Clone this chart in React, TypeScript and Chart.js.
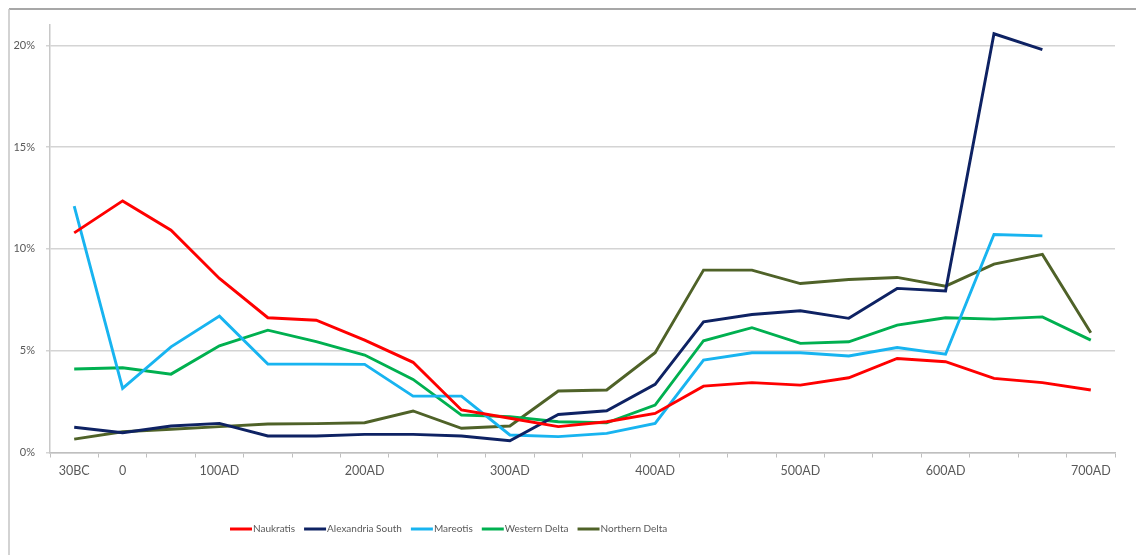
import React, { useEffect, useRef } from "react";
import { Chart, registerables } from "chart.js";

Chart.register(...registerables);

const categories = ["30BC", "0", "", "100AD", "", "", "200AD", "", "", "300AD", "", "", "400AD", "", "", "500AD", "", "", "600AD", "", "", "700AD"];

const naukratis = [10.79, 12.36, 10.92, 8.55, 6.62, 6.5, 5.52, 4.43, 2.09, 1.68, 1.27, 1.51, 1.92, 3.26, 3.43, 3.31, 3.67, 4.62, 4.46, 3.64, 3.43, 3.07];
const alexandriaSouth = [1.24, 0.97, 1.3, 1.43, 0.81, 0.81, 0.89, 0.89, 0.81, 0.58, 1.87, 2.05, 3.35, 6.42, 6.78, 6.96, 6.59, 8.06, 7.94, 20.57, 19.79, null];
const mareotis = [12.1, 3.15, 5.19, 6.7, 4.34, 4.34, 4.33, 2.77, 2.77, 0.86, 0.78, 0.94, 1.43, 4.54, 4.9, 4.9, 4.74, 5.16, 4.83, 10.71, 10.64, null];
const westernDelta = [4.1, 4.16, 3.85, 5.24, 6.01, 5.45, 4.79, 3.59, 1.84, 1.76, 1.51, 1.46, 2.33, 5.49, 6.13, 5.36, 5.44, 6.26, 6.62, 6.55, 6.66, 5.52];
const northernDelta = [0.66, 1.02, 1.14, 1.27, 1.4, 1.42, 1.46, 2.04, 1.19, 1.3, 3.02, 3.07, 4.9, 8.96, 8.96, 8.3, 8.5, 8.6, 8.17, 9.25, 9.73, 5.88];

const yTicks = [0, 5, 10, 15, 20];

const seriesNames = ["Naukratis", "Alexandria South", "Mareotis", "Western Delta", "Northern Delta"];
const seriesColors = ["#FF0000", "#0E2263", "#18B4F0", "#00B050", "#4F6228"];
const seriesData = [naukratis, alexandriaSouth, mareotis, westernDelta, northernDelta];

const FONT = "Lato, 'Open Sans', sans-serif";
const TEXT = "#595959";

const framePlugin = {
  id: "frame",
  beforeDraw(chart: any) {
    const ctx = chart.ctx;
    ctx.save();
    ctx.fillStyle = "#ffffff";
    ctx.fillRect(0, 0, chart.width, chart.height);
    ctx.lineWidth = 1.5;
    ctx.strokeStyle = "#8a8a8a";
    ctx.beginPath();
    ctx.moveTo(9, 9);
    ctx.lineTo(chart.width, 9);
    ctx.stroke();
    ctx.strokeStyle = "#c4c4c4";
    ctx.beginPath();
    ctx.moveTo(9, 9);
    ctx.lineTo(9, chart.height);
    ctx.stroke();
    ctx.restore();
  },
};

const legendPlugin = {
  id: "customLegend",
  afterDraw(chart: any) {
    const ctx = chart.ctx;
    ctx.save();
    ctx.font = `10px ${FONT}`;
    ctx.textBaseline = "middle";
    ctx.textAlign = "left";
    let x = 230;
    const y = 529;
    chart.data.datasets.forEach((ds: any) => {
      ctx.strokeStyle = ds.borderColor;
      ctx.lineWidth = 3;
      ctx.beginPath();
      ctx.moveTo(x, y);
      ctx.lineTo(x + 22, y);
      ctx.stroke();
      x += 23;
      ctx.fillStyle = TEXT;
      ctx.fillText(ds.label, x, y);
      x += ctx.measureText(ds.label).width + 9;
    });
    ctx.restore();
  },
};

export default function App() {
  const ref = useRef<HTMLCanvasElement | null>(null);
  useEffect(() => {
    if (!ref.current) return;
    const chart = new Chart(ref.current, {
      type: "line",
      data: {
        labels: categories,
        datasets: seriesNames.map((name, i) => ({
          label: name,
          data: seriesData[i],
          borderColor: seriesColors[i],
          backgroundColor: seriesColors[i],
          borderWidth: 2.9,
          pointRadius: 0,
          tension: 0,
          fill: false,
        })),
      },
      options: {
        responsive: false,
        animation: false,
        layout: { padding: { left: 0, right: 21, top: 25, bottom: 62.5 } },
        plugins: { legend: { display: false }, tooltip: { enabled: false } },
        scales: {
          x: {
            type: "category",
            offset: true,
            afterFit(scale: any) {
              scale.height = 40;
            },
            grid: {
              offset: true,
              drawOnChartArea: false,
              drawTicks: true,
              tickLength: 5,
              color: "#bfbfbf",
              lineWidth: 1,
            },
            border: { display: true, color: "#bfbfbf", width: 1.5 },
            ticks: {
              autoSkip: false,
              maxRotation: 0,
              minRotation: 0,
              padding: 6,
              color: TEXT,
              font: { family: FONT, size: 12.5 },
            },
          },
          y: {
            min: 0,
            max: 21,
            afterFit(scale: any) {
              scale.width = 50;
            },
            afterBuildTicks(scale: any) {
              scale.ticks = yTicks.map((v) => ({ value: v }));
            },
            grid: {
              color: "#d4d4d4",
              lineWidth: 1.5,
              drawTicks: true,
              tickLength: 4,
            },
            border: { display: true, color: "#c8c8c8", width: 1.5 },
            ticks: {
              padding: 11,
              color: TEXT,
              font: { family: FONT, size: 11 },
              callback: (v: any) => `${v}%`,
            },
          },
        },
      },
      plugins: [framePlugin, legendPlugin],
    });
    return () => chart.destroy();
  }, []);
  return (
    <div style={{ position: "absolute", left: 0, top: 0, width: 1136, height: 555 }}>
      <canvas ref={ref} width={1136} height={555} style={{ display: "block" }} />
    </div>
  );
}
